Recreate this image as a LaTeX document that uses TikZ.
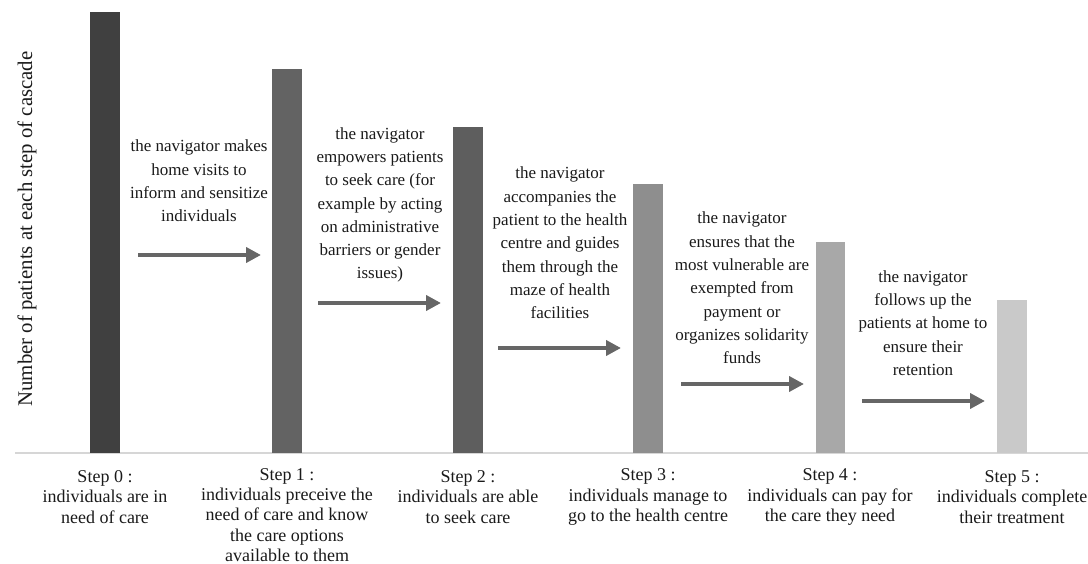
\documentclass[tikz,border=0pt]{standalone}
\usepackage{fontspec}
\setmainfont{Liberation Serif}
\usetikzlibrary{arrows.meta}
\definecolor{barA}{HTML}{404040}
\definecolor{barB}{HTML}{636363}
\definecolor{barC}{HTML}{5E5E5E}
\definecolor{barD}{HTML}{8E8E8E}
\definecolor{barE}{HTML}{A8A8A8}
\definecolor{barF}{HTML}{C9C9C9}
\definecolor{arrowgray}{HTML}{666666}
\definecolor{axisgray}{HTML}{D6D6D6}
\definecolor{txt}{HTML}{1A1A1A}
\tikzset{
  bar/.style={draw=none, fill=#1},
  flowarrow/.style={draw=arrowgray, line width=4.5pt,
    -{Triangle[length=15pt,width=15pt]}},
  actiontext/.style={align=center, inner sep=0pt, text=txt,
    font=\fontsize{17}{23.3}\selectfont},
  steptext/.style={align=center, inner sep=0pt, text=txt,
    font=\fontsize{18}{20.2}\selectfont},
}
\begin{document}
\begin{tikzpicture}[x=1pt,y=-1pt]
\useasboundingbox (0,0) rectangle (1088,564);
% axis
\coordinate (axL) at (15,453);
\coordinate (axR) at (1088,453);
\draw[axisgray, line width=1.5pt] (axL) -- (axR);
% bars
\fill[bar=barA] (90,12) rectangle (120,453);
\fill[bar=barB] (272,69) rectangle (302,453);
\fill[bar=barC] (453,127) rectangle (483,453);
\fill[bar=barD] (633,184) rectangle (663,453);
\fill[bar=barE] (816,242) rectangle (845,453);
\fill[bar=barF] (997,300) rectangle (1027,453);
% y-axis label
\node[rotate=90, inner sep=0pt, text=txt, font=\fontsize{20.8}{22}\selectfont] (ylab) at (27,229) {Number of patients at each step of cascade};
% arrows
\coordinate (a1s) at (138,255); \coordinate (a1e) at (261,255);
\coordinate (a2s) at (318,303); \coordinate (a2e) at (441,303);
\coordinate (a3s) at (498,348); \coordinate (a3e) at (621,348);
\coordinate (a4s) at (681,384); \coordinate (a4e) at (804,384);
\coordinate (a5s) at (862,401); \coordinate (a5e) at (985,401);
\draw[flowarrow] (a1s) -- (a1e);
\draw[flowarrow] (a2s) -- (a2e);
\draw[flowarrow] (a3s) -- (a3e);
\draw[flowarrow] (a4s) -- (a4e);
\draw[flowarrow] (a5s) -- (a5e);
% action texts
\node[actiontext] (t1) at (199,181) {the navigator makes\\home visits to\\inform and sensitize\\individuals};
\node[actiontext] (t2) at (380,205) {the navigator\\empowers patients\\to seek care (for\\example by acting\\on administrative\\barriers or gender\\issues)};
\node[actiontext] (t3) at (560,243) {the navigator\\accompanies the\\patient to the health\\centre and guides\\them through the\\maze of health\\facilities};
\node[actiontext] (t4) at (742,288) {the navigator\\ensures that the\\most vulnerable are\\exempted from\\payment or\\organizes solidarity\\funds};
\node[actiontext] (t5) at (923,323) {the navigator\\follows up the\\patients at home to\\ensure their\\retention};
% step labels
\node[steptext] (s0) at (105,497) {Step 0 :\\individuals are in\\need of care};
\node[steptext] (s1) at (287,515) {Step 1 :\\individuals preceive the\\need of care and know\\the care options\\available to them};
\node[steptext] (s2) at (468,497) {Step 2 :\\individuals are able\\to seek care};
\node[steptext] (s3) at (648,497) {Step 3 :\\individuals manage to\\go to the health centre};
\node[steptext] (s4) at (830,497) {Step 4 :\\individuals can pay for\\the care they need};
\node[steptext] (s5) at (1012,497) {Step 5 :\\individuals complete\\their treatment};
\end{tikzpicture}
\end{document}
